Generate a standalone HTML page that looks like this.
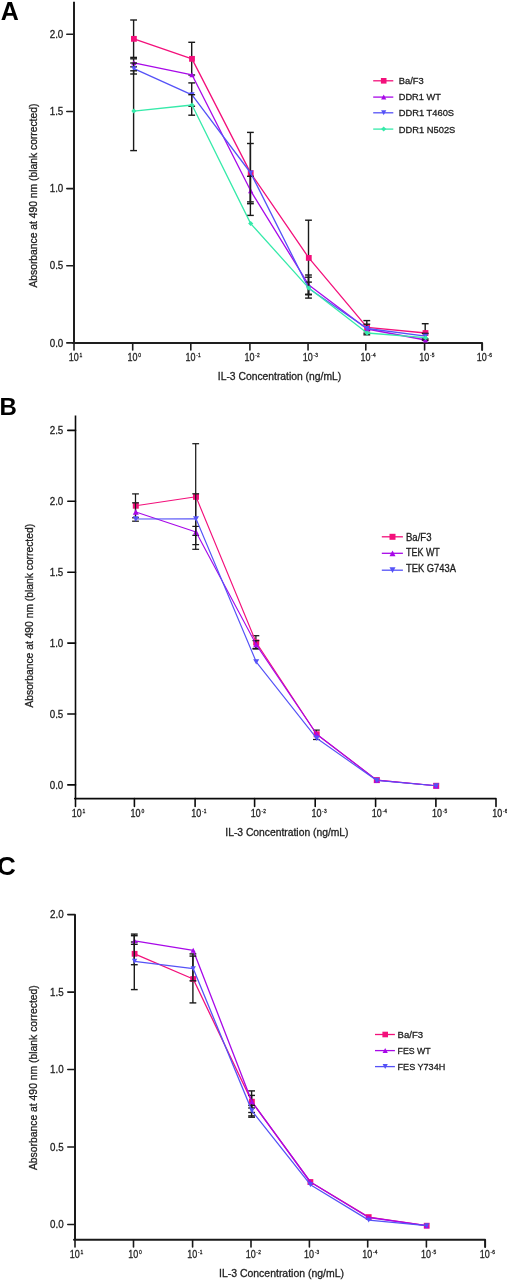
<!DOCTYPE html>
<html><head><meta charset="utf-8"><title>IL-3 dose response</title>
<style>
html,body{margin:0;padding:0;background:#fff;width:507px;height:1280px;overflow:hidden}
svg{display:block;will-change:transform}
text{font-family:"Liberation Sans", sans-serif;stroke:#222;stroke-width:0.3px}
</style></head><body>
<svg width="507" height="1280" viewBox="0 0 507 1280">
<rect width="507" height="1280" fill="#fff"/>
<path d="M74.00,1.80 L74.00,342.90" fill="none" stroke="#1e1e1e" stroke-width="2.0"/>
<path d="M73.00,342.90 L482.10,342.90 L482.10,350.00" fill="none" stroke="#1e1e1e" stroke-width="2.0" stroke-linejoin="round" stroke-linecap="round"/>
<path d="M66.80,342.90 L74.00,342.90" fill="none" stroke="#1e1e1e" stroke-width="1.6" stroke-linecap="round"/>
<text x="49.70" y="346.50" font-size="11" fill="#222" textLength="13.60" lengthAdjust="spacingAndGlyphs">0.0</text>
<path d="M66.80,265.75 L74.00,265.75" fill="none" stroke="#1e1e1e" stroke-width="1.6" stroke-linecap="round"/>
<text x="49.70" y="269.35" font-size="11" fill="#222" textLength="13.60" lengthAdjust="spacingAndGlyphs">0.5</text>
<path d="M66.80,188.60 L74.00,188.60" fill="none" stroke="#1e1e1e" stroke-width="1.6" stroke-linecap="round"/>
<text x="49.70" y="192.20" font-size="11" fill="#222" textLength="13.60" lengthAdjust="spacingAndGlyphs">1.0</text>
<path d="M66.80,111.45 L74.00,111.45" fill="none" stroke="#1e1e1e" stroke-width="1.6" stroke-linecap="round"/>
<text x="49.70" y="115.05" font-size="11" fill="#222" textLength="13.60" lengthAdjust="spacingAndGlyphs">1.5</text>
<path d="M66.80,34.30 L74.00,34.30" fill="none" stroke="#1e1e1e" stroke-width="1.6" stroke-linecap="round"/>
<text x="49.70" y="37.90" font-size="11" fill="#222" textLength="13.60" lengthAdjust="spacingAndGlyphs">2.0</text>
<path d="M74.00,342.90 L74.00,349.90" fill="none" stroke="#1e1e1e" stroke-width="1.6" stroke-linecap="round"/>
<text x="68.70" y="360.80" font-size="11" fill="#222" textLength="10.00" lengthAdjust="spacingAndGlyphs">10</text>
<text x="79.60" y="357.00" font-size="6.2" fill="#222" textLength="2.80" lengthAdjust="spacingAndGlyphs">1</text>
<path d="M132.70,342.90 L132.70,349.90" fill="none" stroke="#1e1e1e" stroke-width="1.6" stroke-linecap="round"/>
<text x="127.40" y="360.80" font-size="11" fill="#222" textLength="10.00" lengthAdjust="spacingAndGlyphs">10</text>
<text x="138.30" y="357.00" font-size="6.2" fill="#222" textLength="2.80" lengthAdjust="spacingAndGlyphs">0</text>
<path d="M190.80,342.90 L190.80,349.90" fill="none" stroke="#1e1e1e" stroke-width="1.6" stroke-linecap="round"/>
<text x="185.50" y="360.80" font-size="11" fill="#222" textLength="10.00" lengthAdjust="spacingAndGlyphs">10</text>
<text x="196.20" y="357.00" font-size="6.2" fill="#222" opacity="0.85" textLength="1.5" lengthAdjust="spacingAndGlyphs">-</text>
<text x="198.00" y="357.00" font-size="6.2" fill="#222" textLength="2.70" lengthAdjust="spacingAndGlyphs">1</text>
<path d="M249.90,342.90 L249.90,349.90" fill="none" stroke="#1e1e1e" stroke-width="1.6" stroke-linecap="round"/>
<text x="244.60" y="360.80" font-size="11" fill="#222" textLength="10.00" lengthAdjust="spacingAndGlyphs">10</text>
<text x="255.30" y="357.00" font-size="6.2" fill="#222" opacity="0.85" textLength="1.5" lengthAdjust="spacingAndGlyphs">-</text>
<text x="257.10" y="357.00" font-size="6.2" fill="#222" textLength="2.70" lengthAdjust="spacingAndGlyphs">2</text>
<path d="M308.05,342.90 L308.05,349.90" fill="none" stroke="#1e1e1e" stroke-width="1.6" stroke-linecap="round"/>
<text x="302.75" y="360.80" font-size="11" fill="#222" textLength="10.00" lengthAdjust="spacingAndGlyphs">10</text>
<text x="313.45" y="357.00" font-size="6.2" fill="#222" opacity="0.85" textLength="1.5" lengthAdjust="spacingAndGlyphs">-</text>
<text x="315.25" y="357.00" font-size="6.2" fill="#222" textLength="2.70" lengthAdjust="spacingAndGlyphs">3</text>
<path d="M365.80,342.90 L365.80,349.90" fill="none" stroke="#1e1e1e" stroke-width="1.6" stroke-linecap="round"/>
<text x="360.50" y="360.80" font-size="11" fill="#222" textLength="10.00" lengthAdjust="spacingAndGlyphs">10</text>
<text x="371.20" y="357.00" font-size="6.2" fill="#222" opacity="0.85" textLength="1.5" lengthAdjust="spacingAndGlyphs">-</text>
<text x="373.00" y="357.00" font-size="6.2" fill="#222" textLength="2.70" lengthAdjust="spacingAndGlyphs">4</text>
<path d="M424.60,342.90 L424.60,349.90" fill="none" stroke="#1e1e1e" stroke-width="1.6" stroke-linecap="round"/>
<text x="419.30" y="360.80" font-size="11" fill="#222" textLength="10.00" lengthAdjust="spacingAndGlyphs">10</text>
<text x="430.00" y="357.00" font-size="6.2" fill="#222" opacity="0.85" textLength="1.5" lengthAdjust="spacingAndGlyphs">-</text>
<text x="431.80" y="357.00" font-size="6.2" fill="#222" textLength="2.70" lengthAdjust="spacingAndGlyphs">5</text>
<text x="476.80" y="360.80" font-size="11" fill="#222" textLength="10.00" lengthAdjust="spacingAndGlyphs">10</text>
<text x="487.50" y="357.00" font-size="6.2" fill="#222" opacity="0.85" textLength="1.5" lengthAdjust="spacingAndGlyphs">-</text>
<text x="489.30" y="357.00" font-size="6.2" fill="#222" textLength="2.70" lengthAdjust="spacingAndGlyphs">6</text>
<text x="217.80" y="380.00" font-size="11" fill="#222" textLength="123.40" lengthAdjust="spacingAndGlyphs">IL-3 Concentration (ng/mL)</text>
<text transform="translate(36.90,287.60) rotate(-90)" x="0" y="0" font-size="11" fill="#222" textLength="184.0" lengthAdjust="spacingAndGlyphs">Absorbance at 490 nm (blank corrected)</text>
<text x="0.80" y="19.60" font-size="25" font-weight="bold" fill="#000" style="stroke:none">A</text>
<line x1="133.60" y1="20.00" x2="133.60" y2="57.40" stroke="#1a1a1a" stroke-width="1.4" stroke-linecap="butt"/>
<line x1="130.20" y1="20.00" x2="137.00" y2="20.00" stroke="#1a1a1a" stroke-width="1.4" stroke-linecap="butt"/>
<line x1="130.20" y1="57.40" x2="137.00" y2="57.40" stroke="#1a1a1a" stroke-width="1.4" stroke-linecap="butt"/>
<line x1="191.70" y1="42.30" x2="191.70" y2="75.00" stroke="#1a1a1a" stroke-width="1.4" stroke-linecap="butt"/>
<line x1="188.30" y1="42.30" x2="195.10" y2="42.30" stroke="#1a1a1a" stroke-width="1.4" stroke-linecap="butt"/>
<line x1="188.30" y1="75.00" x2="195.10" y2="75.00" stroke="#1a1a1a" stroke-width="1.4" stroke-linecap="butt"/>
<line x1="250.40" y1="132.40" x2="250.40" y2="215.40" stroke="#1a1a1a" stroke-width="1.4" stroke-linecap="butt"/>
<line x1="247.00" y1="132.40" x2="253.80" y2="132.40" stroke="#1a1a1a" stroke-width="1.4" stroke-linecap="butt"/>
<line x1="247.00" y1="215.40" x2="253.80" y2="215.40" stroke="#1a1a1a" stroke-width="1.4" stroke-linecap="butt"/>
<line x1="308.50" y1="220.20" x2="308.50" y2="294.50" stroke="#1a1a1a" stroke-width="1.4" stroke-linecap="butt"/>
<line x1="305.10" y1="220.20" x2="311.90" y2="220.20" stroke="#1a1a1a" stroke-width="1.4" stroke-linecap="butt"/>
<line x1="305.10" y1="294.50" x2="311.90" y2="294.50" stroke="#1a1a1a" stroke-width="1.4" stroke-linecap="butt"/>
<line x1="366.80" y1="320.60" x2="366.80" y2="330.60" stroke="#1a1a1a" stroke-width="1.4" stroke-linecap="butt"/>
<line x1="363.40" y1="320.60" x2="370.20" y2="320.60" stroke="#1a1a1a" stroke-width="1.4" stroke-linecap="butt"/>
<line x1="363.40" y1="330.60" x2="370.20" y2="330.60" stroke="#1a1a1a" stroke-width="1.4" stroke-linecap="butt"/>
<line x1="425.20" y1="323.70" x2="425.20" y2="340.40" stroke="#1a1a1a" stroke-width="1.4" stroke-linecap="butt"/>
<line x1="421.80" y1="323.70" x2="428.60" y2="323.70" stroke="#1a1a1a" stroke-width="1.4" stroke-linecap="butt"/>
<line x1="421.80" y1="340.40" x2="428.60" y2="340.40" stroke="#1a1a1a" stroke-width="1.4" stroke-linecap="butt"/>
<polyline points="133.90,38.85 192.00,58.85 250.70,173.10 308.80,257.90 367.10,327.30 425.50,333.00" fill="none" stroke="#F3107B" stroke-width="1.3" stroke-linejoin="round"/>
<rect x="131.00" y="35.95" width="5.80" height="5.80" fill="#F3107B"/>
<rect x="189.10" y="55.95" width="5.80" height="5.80" fill="#F3107B"/>
<rect x="247.80" y="170.20" width="5.80" height="5.80" fill="#F3107B"/>
<rect x="305.90" y="255.00" width="5.80" height="5.80" fill="#F3107B"/>
<rect x="364.20" y="324.40" width="5.80" height="5.80" fill="#F3107B"/>
<rect x="422.60" y="330.10" width="5.80" height="5.80" fill="#F3107B"/>
<line x1="133.60" y1="58.80" x2="133.60" y2="66.80" stroke="#1a1a1a" stroke-width="1.4" stroke-linecap="butt"/>
<line x1="130.20" y1="58.80" x2="137.00" y2="58.80" stroke="#1a1a1a" stroke-width="1.4" stroke-linecap="butt"/>
<line x1="130.20" y1="66.80" x2="137.00" y2="66.80" stroke="#1a1a1a" stroke-width="1.4" stroke-linecap="butt"/>
<line x1="250.40" y1="176.30" x2="250.40" y2="203.70" stroke="#1a1a1a" stroke-width="1.4" stroke-linecap="butt"/>
<line x1="247.00" y1="176.30" x2="253.80" y2="176.30" stroke="#1a1a1a" stroke-width="1.4" stroke-linecap="butt"/>
<line x1="247.00" y1="203.70" x2="253.80" y2="203.70" stroke="#1a1a1a" stroke-width="1.4" stroke-linecap="butt"/>
<line x1="308.50" y1="275.00" x2="308.50" y2="294.50" stroke="#1a1a1a" stroke-width="1.4" stroke-linecap="butt"/>
<line x1="305.10" y1="275.00" x2="311.90" y2="275.00" stroke="#1a1a1a" stroke-width="1.4" stroke-linecap="butt"/>
<line x1="305.10" y1="294.50" x2="311.90" y2="294.50" stroke="#1a1a1a" stroke-width="1.4" stroke-linecap="butt"/>
<line x1="366.80" y1="324.20" x2="366.80" y2="333.20" stroke="#1a1a1a" stroke-width="1.4" stroke-linecap="butt"/>
<line x1="363.40" y1="324.20" x2="370.20" y2="324.20" stroke="#1a1a1a" stroke-width="1.4" stroke-linecap="butt"/>
<line x1="363.40" y1="333.20" x2="370.20" y2="333.20" stroke="#1a1a1a" stroke-width="1.4" stroke-linecap="butt"/>
<polyline points="133.90,62.80 192.00,74.80 250.70,190.80 308.80,285.00 367.10,329.00 425.50,340.00" fill="none" stroke="#A808E8" stroke-width="1.3" stroke-linejoin="round"/>
<polygon points="133.90,60.35 136.55,65.25 131.25,65.25" fill="#A808E8"/>
<polygon points="192.00,72.35 194.65,77.25 189.35,77.25" fill="#A808E8"/>
<polygon points="250.70,188.35 253.35,193.25 248.05,193.25" fill="#A808E8"/>
<polygon points="308.80,282.55 311.45,287.45 306.15,287.45" fill="#A808E8"/>
<polygon points="367.10,326.55 369.75,331.45 364.45,331.45" fill="#A808E8"/>
<polygon points="425.50,337.55 428.15,342.45 422.85,342.45" fill="#A808E8"/>
<line x1="133.60" y1="63.00" x2="133.60" y2="74.00" stroke="#1a1a1a" stroke-width="1.4" stroke-linecap="butt"/>
<line x1="130.20" y1="63.00" x2="137.00" y2="63.00" stroke="#1a1a1a" stroke-width="1.4" stroke-linecap="butt"/>
<line x1="130.20" y1="74.00" x2="137.00" y2="74.00" stroke="#1a1a1a" stroke-width="1.4" stroke-linecap="butt"/>
<line x1="191.70" y1="82.90" x2="191.70" y2="106.20" stroke="#1a1a1a" stroke-width="1.4" stroke-linecap="butt"/>
<line x1="188.30" y1="82.90" x2="195.10" y2="82.90" stroke="#1a1a1a" stroke-width="1.4" stroke-linecap="butt"/>
<line x1="188.30" y1="106.20" x2="195.10" y2="106.20" stroke="#1a1a1a" stroke-width="1.4" stroke-linecap="butt"/>
<line x1="250.40" y1="143.50" x2="250.40" y2="201.90" stroke="#1a1a1a" stroke-width="1.4" stroke-linecap="butt"/>
<line x1="247.00" y1="143.50" x2="253.80" y2="143.50" stroke="#1a1a1a" stroke-width="1.4" stroke-linecap="butt"/>
<line x1="247.00" y1="201.90" x2="253.80" y2="201.90" stroke="#1a1a1a" stroke-width="1.4" stroke-linecap="butt"/>
<line x1="308.50" y1="282.10" x2="308.50" y2="294.50" stroke="#1a1a1a" stroke-width="1.4" stroke-linecap="butt"/>
<line x1="305.10" y1="282.10" x2="311.90" y2="282.10" stroke="#1a1a1a" stroke-width="1.4" stroke-linecap="butt"/>
<line x1="305.10" y1="294.50" x2="311.90" y2="294.50" stroke="#1a1a1a" stroke-width="1.4" stroke-linecap="butt"/>
<line x1="425.20" y1="333.40" x2="425.20" y2="339.00" stroke="#1a1a1a" stroke-width="1.4" stroke-linecap="butt"/>
<line x1="421.80" y1="333.40" x2="428.60" y2="333.40" stroke="#1a1a1a" stroke-width="1.4" stroke-linecap="butt"/>
<line x1="421.80" y1="339.00" x2="428.60" y2="339.00" stroke="#1a1a1a" stroke-width="1.4" stroke-linecap="butt"/>
<polyline points="133.90,68.60 192.00,94.80 250.70,173.00 308.80,288.50 367.10,328.50 425.50,336.20" fill="none" stroke="#5552F7" stroke-width="1.3" stroke-linejoin="round"/>
<polygon points="131.25,66.15 136.55,66.15 133.90,71.05" fill="#5552F7"/>
<polygon points="189.35,92.35 194.65,92.35 192.00,97.25" fill="#5552F7"/>
<polygon points="248.05,170.55 253.35,170.55 250.70,175.45" fill="#5552F7"/>
<polygon points="306.15,286.05 311.45,286.05 308.80,290.95" fill="#5552F7"/>
<polygon points="364.45,326.05 369.75,326.05 367.10,330.95" fill="#5552F7"/>
<polygon points="422.85,333.75 428.15,333.75 425.50,338.65" fill="#5552F7"/>
<line x1="133.60" y1="70.80" x2="133.60" y2="150.60" stroke="#1a1a1a" stroke-width="1.4" stroke-linecap="butt"/>
<line x1="130.20" y1="70.80" x2="137.00" y2="70.80" stroke="#1a1a1a" stroke-width="1.4" stroke-linecap="butt"/>
<line x1="130.20" y1="150.60" x2="137.00" y2="150.60" stroke="#1a1a1a" stroke-width="1.4" stroke-linecap="butt"/>
<line x1="191.70" y1="94.70" x2="191.70" y2="115.20" stroke="#1a1a1a" stroke-width="1.4" stroke-linecap="butt"/>
<line x1="188.30" y1="94.70" x2="195.10" y2="94.70" stroke="#1a1a1a" stroke-width="1.4" stroke-linecap="butt"/>
<line x1="188.30" y1="115.20" x2="195.10" y2="115.20" stroke="#1a1a1a" stroke-width="1.4" stroke-linecap="butt"/>
<line x1="308.50" y1="277.20" x2="308.50" y2="298.10" stroke="#1a1a1a" stroke-width="1.4" stroke-linecap="butt"/>
<line x1="305.10" y1="277.20" x2="311.90" y2="277.20" stroke="#1a1a1a" stroke-width="1.4" stroke-linecap="butt"/>
<line x1="305.10" y1="298.10" x2="311.90" y2="298.10" stroke="#1a1a1a" stroke-width="1.4" stroke-linecap="butt"/>
<line x1="366.80" y1="331.20" x2="366.80" y2="334.80" stroke="#1a1a1a" stroke-width="1.4" stroke-linecap="butt"/>
<line x1="363.40" y1="334.80" x2="370.20" y2="334.80" stroke="#1a1a1a" stroke-width="1.4" stroke-linecap="butt"/>
<polyline points="133.90,111.10 192.00,105.00 250.70,223.60 308.80,288.10 367.10,333.00 425.50,337.70" fill="none" stroke="#36EAAA" stroke-width="1.3" stroke-linejoin="round"/>
<polygon points="133.90,108.60 136.50,111.10 133.90,113.60 131.30,111.10" fill="#36EAAA"/>
<polygon points="192.00,102.50 194.60,105.00 192.00,107.50 189.40,105.00" fill="#36EAAA"/>
<polygon points="250.70,221.10 253.30,223.60 250.70,226.10 248.10,223.60" fill="#36EAAA"/>
<polygon points="308.80,285.60 311.40,288.10 308.80,290.60 306.20,288.10" fill="#36EAAA"/>
<polygon points="367.10,330.50 369.70,333.00 367.10,335.50 364.50,333.00" fill="#36EAAA"/>
<polygon points="425.50,335.20 428.10,337.70 425.50,340.20 422.90,337.70" fill="#36EAAA"/>
<line x1="373.20" y1="80.80" x2="393.30" y2="80.80" stroke="#F3107B" stroke-width="1.3" stroke-linecap="butt"/>
<rect x="380.90" y="78.00" width="5.60" height="5.60" fill="#F3107B"/>
<text x="398.80" y="83.80" font-size="9.6" fill="#1a1a1a" textLength="24.90" lengthAdjust="spacingAndGlyphs">Ba/F3</text>
<line x1="373.20" y1="97.10" x2="393.30" y2="97.10" stroke="#A808E8" stroke-width="1.3" stroke-linecap="butt"/>
<polygon points="383.70,94.60 386.30,99.60 381.10,99.60" fill="#A808E8"/>
<text x="398.80" y="99.80" font-size="9.6" fill="#1a1a1a" textLength="42.00" lengthAdjust="spacingAndGlyphs">DDR1 WT</text>
<line x1="373.20" y1="112.80" x2="393.30" y2="112.80" stroke="#5552F7" stroke-width="1.3" stroke-linecap="butt"/>
<polygon points="381.10,110.30 386.30,110.30 383.70,115.30" fill="#5552F7"/>
<text x="398.80" y="115.80" font-size="9.6" fill="#1a1a1a" textLength="55.30" lengthAdjust="spacingAndGlyphs">DDR1 T460S</text>
<line x1="373.20" y1="129.10" x2="393.30" y2="129.10" stroke="#36EAAA" stroke-width="1.3" stroke-linecap="butt"/>
<polygon points="383.70,126.60 386.30,129.10 383.70,131.60 381.10,129.10" fill="#36EAAA"/>
<text x="398.80" y="132.80" font-size="9.6" fill="#1a1a1a" textLength="56.50" lengthAdjust="spacingAndGlyphs">DDR1 N502S</text>
<path d="M75.50,415.40 L75.50,798.60" fill="none" stroke="#0a0a0a" stroke-width="1.6"/>
<path d="M74.70,798.60 L496.00,798.60 L496.00,806.50" fill="none" stroke="#0a0a0a" stroke-width="1.6" stroke-linejoin="round" stroke-linecap="round"/>
<path d="M67.80,784.90 L75.50,784.90" fill="none" stroke="#0a0a0a" stroke-width="1.6" stroke-linecap="round"/>
<text x="49.70" y="788.50" font-size="11" fill="#222" textLength="13.60" lengthAdjust="spacingAndGlyphs">0.0</text>
<path d="M67.80,714.00 L75.50,714.00" fill="none" stroke="#0a0a0a" stroke-width="1.6" stroke-linecap="round"/>
<text x="49.70" y="717.60" font-size="11" fill="#222" textLength="13.60" lengthAdjust="spacingAndGlyphs">0.5</text>
<path d="M67.80,643.10 L75.50,643.10" fill="none" stroke="#0a0a0a" stroke-width="1.6" stroke-linecap="round"/>
<text x="49.70" y="646.70" font-size="11" fill="#222" textLength="13.60" lengthAdjust="spacingAndGlyphs">1.0</text>
<path d="M67.80,572.20 L75.50,572.20" fill="none" stroke="#0a0a0a" stroke-width="1.6" stroke-linecap="round"/>
<text x="49.70" y="575.80" font-size="11" fill="#222" textLength="13.60" lengthAdjust="spacingAndGlyphs">1.5</text>
<path d="M67.80,501.30 L75.50,501.30" fill="none" stroke="#0a0a0a" stroke-width="1.6" stroke-linecap="round"/>
<text x="49.70" y="504.90" font-size="11" fill="#222" textLength="13.60" lengthAdjust="spacingAndGlyphs">2.0</text>
<path d="M67.80,430.40 L75.50,430.40" fill="none" stroke="#0a0a0a" stroke-width="1.6" stroke-linecap="round"/>
<text x="49.70" y="434.00" font-size="11" fill="#222" textLength="13.60" lengthAdjust="spacingAndGlyphs">2.5</text>
<path d="M75.50,798.60 L75.50,806.40" fill="none" stroke="#0a0a0a" stroke-width="1.6" stroke-linecap="round"/>
<text x="71.70" y="817.00" font-size="10.4" fill="#222" textLength="10.00" lengthAdjust="spacingAndGlyphs">10</text>
<text x="82.60" y="813.20" font-size="6.2" fill="#222" textLength="2.80" lengthAdjust="spacingAndGlyphs">1</text>
<path d="M134.40,798.60 L134.40,806.40" fill="none" stroke="#0a0a0a" stroke-width="1.6" stroke-linecap="round"/>
<text x="130.60" y="817.00" font-size="10.4" fill="#222" textLength="10.00" lengthAdjust="spacingAndGlyphs">10</text>
<text x="141.50" y="813.20" font-size="6.2" fill="#222" textLength="2.80" lengthAdjust="spacingAndGlyphs">0</text>
<path d="M195.10,798.60 L195.10,806.40" fill="none" stroke="#0a0a0a" stroke-width="1.6" stroke-linecap="round"/>
<text x="191.30" y="817.00" font-size="10.4" fill="#222" textLength="10.00" lengthAdjust="spacingAndGlyphs">10</text>
<text x="202.00" y="813.20" font-size="6.2" fill="#222" opacity="0.85" textLength="1.5" lengthAdjust="spacingAndGlyphs">-</text>
<text x="203.80" y="813.20" font-size="6.2" fill="#222" textLength="2.70" lengthAdjust="spacingAndGlyphs">1</text>
<path d="M254.60,798.60 L254.60,806.40" fill="none" stroke="#0a0a0a" stroke-width="1.6" stroke-linecap="round"/>
<text x="250.80" y="817.00" font-size="10.4" fill="#222" textLength="10.00" lengthAdjust="spacingAndGlyphs">10</text>
<text x="261.50" y="813.20" font-size="6.2" fill="#222" opacity="0.85" textLength="1.5" lengthAdjust="spacingAndGlyphs">-</text>
<text x="263.30" y="813.20" font-size="6.2" fill="#222" textLength="2.70" lengthAdjust="spacingAndGlyphs">2</text>
<path d="M315.20,798.60 L315.20,806.40" fill="none" stroke="#0a0a0a" stroke-width="1.6" stroke-linecap="round"/>
<text x="311.40" y="817.00" font-size="10.4" fill="#222" textLength="10.00" lengthAdjust="spacingAndGlyphs">10</text>
<text x="322.10" y="813.20" font-size="6.2" fill="#222" opacity="0.85" textLength="1.5" lengthAdjust="spacingAndGlyphs">-</text>
<text x="323.90" y="813.20" font-size="6.2" fill="#222" textLength="2.70" lengthAdjust="spacingAndGlyphs">3</text>
<path d="M375.60,798.60 L375.60,806.40" fill="none" stroke="#0a0a0a" stroke-width="1.6" stroke-linecap="round"/>
<text x="371.80" y="817.00" font-size="10.4" fill="#222" textLength="10.00" lengthAdjust="spacingAndGlyphs">10</text>
<text x="382.50" y="813.20" font-size="6.2" fill="#222" opacity="0.85" textLength="1.5" lengthAdjust="spacingAndGlyphs">-</text>
<text x="384.30" y="813.20" font-size="6.2" fill="#222" textLength="2.70" lengthAdjust="spacingAndGlyphs">4</text>
<path d="M435.90,798.60 L435.90,806.40" fill="none" stroke="#0a0a0a" stroke-width="1.6" stroke-linecap="round"/>
<text x="432.10" y="817.00" font-size="10.4" fill="#222" textLength="10.00" lengthAdjust="spacingAndGlyphs">10</text>
<text x="442.80" y="813.20" font-size="6.2" fill="#222" opacity="0.85" textLength="1.5" lengthAdjust="spacingAndGlyphs">-</text>
<text x="444.60" y="813.20" font-size="6.2" fill="#222" textLength="2.70" lengthAdjust="spacingAndGlyphs">5</text>
<text x="492.20" y="817.00" font-size="10.4" fill="#222" textLength="10.00" lengthAdjust="spacingAndGlyphs">10</text>
<text x="502.90" y="813.20" font-size="6.2" fill="#222" opacity="0.85" textLength="1.5" lengthAdjust="spacingAndGlyphs">-</text>
<text x="504.70" y="813.20" font-size="6.2" fill="#222" textLength="2.70" lengthAdjust="spacingAndGlyphs">6</text>
<text x="225.30" y="836.20" font-size="11" fill="#222" textLength="123.20" lengthAdjust="spacingAndGlyphs">IL-3 Concentration (ng/mL)</text>
<text transform="translate(33.40,707.60) rotate(-90)" x="0" y="0" font-size="11" fill="#222" textLength="183.7" lengthAdjust="spacingAndGlyphs">Absorbance at 490 nm (blank corrected)</text>
<text x="-0.50" y="414.80" font-size="24" font-weight="bold" fill="#000" style="stroke:none">B</text>
<line x1="135.50" y1="493.90" x2="135.50" y2="517.80" stroke="#1a1a1a" stroke-width="1.25" stroke-linecap="butt"/>
<line x1="132.10" y1="493.90" x2="138.90" y2="493.90" stroke="#1a1a1a" stroke-width="1.25" stroke-linecap="butt"/>
<line x1="132.10" y1="517.80" x2="138.90" y2="517.80" stroke="#1a1a1a" stroke-width="1.25" stroke-linecap="butt"/>
<line x1="195.70" y1="443.70" x2="195.70" y2="549.30" stroke="#1a1a1a" stroke-width="1.25" stroke-linecap="butt"/>
<line x1="192.30" y1="443.70" x2="199.10" y2="443.70" stroke="#1a1a1a" stroke-width="1.25" stroke-linecap="butt"/>
<line x1="192.30" y1="549.30" x2="199.10" y2="549.30" stroke="#1a1a1a" stroke-width="1.25" stroke-linecap="butt"/>
<line x1="255.90" y1="635.70" x2="255.90" y2="649.00" stroke="#1a1a1a" stroke-width="1.25" stroke-linecap="butt"/>
<line x1="252.50" y1="635.70" x2="259.30" y2="635.70" stroke="#1a1a1a" stroke-width="1.25" stroke-linecap="butt"/>
<line x1="252.50" y1="649.00" x2="259.30" y2="649.00" stroke="#1a1a1a" stroke-width="1.25" stroke-linecap="butt"/>
<line x1="316.40" y1="730.10" x2="316.40" y2="739.50" stroke="#1a1a1a" stroke-width="1.25" stroke-linecap="butt"/>
<line x1="313.00" y1="730.10" x2="319.80" y2="730.10" stroke="#1a1a1a" stroke-width="1.25" stroke-linecap="butt"/>
<line x1="313.00" y1="739.50" x2="319.80" y2="739.50" stroke="#1a1a1a" stroke-width="1.25" stroke-linecap="butt"/>
<polyline points="135.80,505.70 196.00,496.80 256.20,642.50 316.70,734.30 376.80,780.10 436.20,785.80" fill="none" stroke="#F3107B" stroke-width="1.15" stroke-linejoin="round"/>
<rect x="132.80" y="502.70" width="6.00" height="6.00" fill="#F3107B"/>
<rect x="193.00" y="493.80" width="6.00" height="6.00" fill="#F3107B"/>
<rect x="253.20" y="639.50" width="6.00" height="6.00" fill="#F3107B"/>
<rect x="313.70" y="731.30" width="6.00" height="6.00" fill="#F3107B"/>
<rect x="373.80" y="777.10" width="6.00" height="6.00" fill="#F3107B"/>
<rect x="433.20" y="782.80" width="6.00" height="6.00" fill="#F3107B"/>
<line x1="135.50" y1="502.80" x2="135.50" y2="521.20" stroke="#1a1a1a" stroke-width="1.25" stroke-linecap="butt"/>
<line x1="132.10" y1="502.80" x2="138.90" y2="502.80" stroke="#1a1a1a" stroke-width="1.25" stroke-linecap="butt"/>
<line x1="132.10" y1="521.20" x2="138.90" y2="521.20" stroke="#1a1a1a" stroke-width="1.25" stroke-linecap="butt"/>
<line x1="195.70" y1="526.40" x2="195.70" y2="535.40" stroke="#1a1a1a" stroke-width="1.25" stroke-linecap="butt"/>
<line x1="192.30" y1="526.40" x2="199.10" y2="526.40" stroke="#1a1a1a" stroke-width="1.25" stroke-linecap="butt"/>
<line x1="192.30" y1="535.40" x2="199.10" y2="535.40" stroke="#1a1a1a" stroke-width="1.25" stroke-linecap="butt"/>
<line x1="255.90" y1="640.60" x2="255.90" y2="648.50" stroke="#1a1a1a" stroke-width="1.25" stroke-linecap="butt"/>
<line x1="252.50" y1="640.60" x2="259.30" y2="640.60" stroke="#1a1a1a" stroke-width="1.25" stroke-linecap="butt"/>
<line x1="252.50" y1="648.50" x2="259.30" y2="648.50" stroke="#1a1a1a" stroke-width="1.25" stroke-linecap="butt"/>
<polyline points="135.80,512.00 196.00,532.00 256.20,644.60 316.70,734.30 376.80,780.10 436.20,785.80" fill="none" stroke="#A808E8" stroke-width="1.15" stroke-linejoin="round"/>
<polygon points="135.80,509.35 138.80,514.65 132.80,514.65" fill="#A808E8"/>
<polygon points="196.00,529.35 199.00,534.65 193.00,534.65" fill="#A808E8"/>
<polygon points="256.20,641.95 259.20,647.25 253.20,647.25" fill="#A808E8"/>
<polygon points="316.70,731.65 319.70,736.95 313.70,736.95" fill="#A808E8"/>
<polygon points="376.80,777.45 379.80,782.75 373.80,782.75" fill="#A808E8"/>
<polygon points="436.20,783.15 439.20,788.45 433.20,788.45" fill="#A808E8"/>
<line x1="195.70" y1="493.80" x2="195.70" y2="544.60" stroke="#1a1a1a" stroke-width="1.25" stroke-linecap="butt"/>
<line x1="192.30" y1="493.80" x2="199.10" y2="493.80" stroke="#1a1a1a" stroke-width="1.25" stroke-linecap="butt"/>
<line x1="192.30" y1="544.60" x2="199.10" y2="544.60" stroke="#1a1a1a" stroke-width="1.25" stroke-linecap="butt"/>
<polyline points="135.80,519.00 196.00,518.80 256.20,661.80 316.70,738.30 376.80,780.50 436.20,785.80" fill="none" stroke="#5552F7" stroke-width="1.15" stroke-linejoin="round"/>
<polygon points="132.80,516.35 138.80,516.35 135.80,521.65" fill="#5552F7"/>
<polygon points="193.00,516.15 199.00,516.15 196.00,521.45" fill="#5552F7"/>
<polygon points="253.20,659.15 259.20,659.15 256.20,664.45" fill="#5552F7"/>
<polygon points="313.70,735.65 319.70,735.65 316.70,740.95" fill="#5552F7"/>
<polygon points="373.80,777.85 379.80,777.85 376.80,783.15" fill="#5552F7"/>
<polygon points="433.20,783.15 439.20,783.15 436.20,788.45" fill="#5552F7"/>
<line x1="381.80" y1="536.80" x2="402.90" y2="536.80" stroke="#F3107B" stroke-width="1.3" stroke-linecap="butt"/>
<rect x="389.50" y="533.80" width="6.00" height="6.00" fill="#F3107B"/>
<text x="406.00" y="540.70" font-size="10.2" fill="#1a1a1a" textLength="25.50" lengthAdjust="spacingAndGlyphs">Ba/F3</text>
<line x1="381.80" y1="553.30" x2="402.90" y2="553.30" stroke="#A808E8" stroke-width="1.3" stroke-linecap="butt"/>
<polygon points="392.50,550.40 395.50,556.20 389.50,556.20" fill="#A808E8"/>
<text x="406.00" y="556.00" font-size="10.2" fill="#1a1a1a" textLength="33.80" lengthAdjust="spacingAndGlyphs">TEK WT</text>
<line x1="381.80" y1="570.20" x2="402.90" y2="570.20" stroke="#5552F7" stroke-width="1.3" stroke-linecap="butt"/>
<polygon points="389.50,567.30 395.50,567.30 392.50,573.10" fill="#5552F7"/>
<text x="406.00" y="571.60" font-size="10.2" fill="#1a1a1a" textLength="49.90" lengthAdjust="spacingAndGlyphs">TEK G743A</text>
<path d="M75.00,914.60 L75.00,1239.70" fill="none" stroke="#1a1a1a" stroke-width="2.0"/>
<path d="M74.00,1239.70 L485.10,1239.70 L485.10,1247.00" fill="none" stroke="#1a1a1a" stroke-width="2.0" stroke-linejoin="round" stroke-linecap="round"/>
<path d="M67.80,1224.50 L75.00,1224.50" fill="none" stroke="#1a1a1a" stroke-width="1.6" stroke-linecap="round"/>
<text x="50.00" y="1228.10" font-size="11" fill="#222" textLength="13.60" lengthAdjust="spacingAndGlyphs">0.0</text>
<path d="M67.80,1147.03 L75.00,1147.03" fill="none" stroke="#1a1a1a" stroke-width="1.6" stroke-linecap="round"/>
<text x="50.00" y="1150.62" font-size="11" fill="#222" textLength="13.60" lengthAdjust="spacingAndGlyphs">0.5</text>
<path d="M67.80,1069.55 L75.00,1069.55" fill="none" stroke="#1a1a1a" stroke-width="1.6" stroke-linecap="round"/>
<text x="50.00" y="1073.15" font-size="11" fill="#222" textLength="13.60" lengthAdjust="spacingAndGlyphs">1.0</text>
<path d="M67.80,992.08 L75.00,992.08" fill="none" stroke="#1a1a1a" stroke-width="1.6" stroke-linecap="round"/>
<text x="50.00" y="995.68" font-size="11" fill="#222" textLength="13.60" lengthAdjust="spacingAndGlyphs">1.5</text>
<path d="M67.80,914.60 L75.00,914.60" fill="none" stroke="#1a1a1a" stroke-width="1.6" stroke-linecap="round"/>
<text x="50.00" y="918.20" font-size="11" fill="#222" textLength="13.60" lengthAdjust="spacingAndGlyphs">2.0</text>
<path d="M75.00,1239.70 L75.00,1246.90" fill="none" stroke="#1a1a1a" stroke-width="1.6" stroke-linecap="round"/>
<text x="69.65" y="1257.60" font-size="11" fill="#222" textLength="10.00" lengthAdjust="spacingAndGlyphs">10</text>
<text x="80.55" y="1253.80" font-size="6.2" fill="#222" textLength="2.80" lengthAdjust="spacingAndGlyphs">1</text>
<path d="M133.50,1239.70 L133.50,1246.90" fill="none" stroke="#1a1a1a" stroke-width="1.6" stroke-linecap="round"/>
<text x="128.15" y="1257.60" font-size="11" fill="#222" textLength="10.00" lengthAdjust="spacingAndGlyphs">10</text>
<text x="139.05" y="1253.80" font-size="6.2" fill="#222" textLength="2.80" lengthAdjust="spacingAndGlyphs">0</text>
<path d="M192.60,1239.70 L192.60,1246.90" fill="none" stroke="#1a1a1a" stroke-width="1.6" stroke-linecap="round"/>
<text x="187.25" y="1257.60" font-size="11" fill="#222" textLength="10.00" lengthAdjust="spacingAndGlyphs">10</text>
<text x="197.95" y="1253.80" font-size="6.2" fill="#222" opacity="0.85" textLength="1.5" lengthAdjust="spacingAndGlyphs">-</text>
<text x="199.75" y="1253.80" font-size="6.2" fill="#222" textLength="2.70" lengthAdjust="spacingAndGlyphs">1</text>
<path d="M251.00,1239.70 L251.00,1246.90" fill="none" stroke="#1a1a1a" stroke-width="1.6" stroke-linecap="round"/>
<text x="245.65" y="1257.60" font-size="11" fill="#222" textLength="10.00" lengthAdjust="spacingAndGlyphs">10</text>
<text x="256.35" y="1253.80" font-size="6.2" fill="#222" opacity="0.85" textLength="1.5" lengthAdjust="spacingAndGlyphs">-</text>
<text x="258.15" y="1253.80" font-size="6.2" fill="#222" textLength="2.70" lengthAdjust="spacingAndGlyphs">2</text>
<path d="M309.40,1239.70 L309.40,1246.90" fill="none" stroke="#1a1a1a" stroke-width="1.6" stroke-linecap="round"/>
<text x="304.05" y="1257.60" font-size="11" fill="#222" textLength="10.00" lengthAdjust="spacingAndGlyphs">10</text>
<text x="314.75" y="1253.80" font-size="6.2" fill="#222" opacity="0.85" textLength="1.5" lengthAdjust="spacingAndGlyphs">-</text>
<text x="316.55" y="1253.80" font-size="6.2" fill="#222" textLength="2.70" lengthAdjust="spacingAndGlyphs">3</text>
<path d="M367.70,1239.70 L367.70,1246.90" fill="none" stroke="#1a1a1a" stroke-width="1.6" stroke-linecap="round"/>
<text x="362.35" y="1257.60" font-size="11" fill="#222" textLength="10.00" lengthAdjust="spacingAndGlyphs">10</text>
<text x="373.05" y="1253.80" font-size="6.2" fill="#222" opacity="0.85" textLength="1.5" lengthAdjust="spacingAndGlyphs">-</text>
<text x="374.85" y="1253.80" font-size="6.2" fill="#222" textLength="2.70" lengthAdjust="spacingAndGlyphs">4</text>
<path d="M426.40,1239.70 L426.40,1246.90" fill="none" stroke="#1a1a1a" stroke-width="1.6" stroke-linecap="round"/>
<text x="421.05" y="1257.60" font-size="11" fill="#222" textLength="10.00" lengthAdjust="spacingAndGlyphs">10</text>
<text x="431.75" y="1253.80" font-size="6.2" fill="#222" opacity="0.85" textLength="1.5" lengthAdjust="spacingAndGlyphs">-</text>
<text x="433.55" y="1253.80" font-size="6.2" fill="#222" textLength="2.70" lengthAdjust="spacingAndGlyphs">5</text>
<text x="479.75" y="1257.60" font-size="11" fill="#222" textLength="10.00" lengthAdjust="spacingAndGlyphs">10</text>
<text x="490.45" y="1253.80" font-size="6.2" fill="#222" opacity="0.85" textLength="1.5" lengthAdjust="spacingAndGlyphs">-</text>
<text x="492.25" y="1253.80" font-size="6.2" fill="#222" textLength="2.70" lengthAdjust="spacingAndGlyphs">6</text>
<text x="219.00" y="1276.80" font-size="11" fill="#222" textLength="125.00" lengthAdjust="spacingAndGlyphs">IL-3 Concentration (ng/mL)</text>
<text transform="translate(36.60,1170.10) rotate(-90)" x="0" y="0" font-size="11" fill="#222" textLength="184.9" lengthAdjust="spacingAndGlyphs">Absorbance at 490 nm (blank corrected)</text>
<text x="-3.00" y="874.60" font-size="26" font-weight="bold" fill="#000" style="stroke:none">C</text>
<line x1="134.30" y1="942.00" x2="134.30" y2="964.70" stroke="#1a1a1a" stroke-width="1.4" stroke-linecap="butt"/>
<line x1="130.90" y1="942.00" x2="137.70" y2="942.00" stroke="#1a1a1a" stroke-width="1.4" stroke-linecap="butt"/>
<line x1="130.90" y1="964.70" x2="137.70" y2="964.70" stroke="#1a1a1a" stroke-width="1.4" stroke-linecap="butt"/>
<line x1="192.90" y1="953.90" x2="192.90" y2="1002.90" stroke="#1a1a1a" stroke-width="1.4" stroke-linecap="butt"/>
<line x1="189.50" y1="953.90" x2="196.30" y2="953.90" stroke="#1a1a1a" stroke-width="1.4" stroke-linecap="butt"/>
<line x1="189.50" y1="1002.90" x2="196.30" y2="1002.90" stroke="#1a1a1a" stroke-width="1.4" stroke-linecap="butt"/>
<line x1="251.60" y1="1090.90" x2="251.60" y2="1112.50" stroke="#1a1a1a" stroke-width="1.4" stroke-linecap="butt"/>
<line x1="248.20" y1="1090.90" x2="255.00" y2="1090.90" stroke="#1a1a1a" stroke-width="1.4" stroke-linecap="butt"/>
<line x1="248.20" y1="1112.50" x2="255.00" y2="1112.50" stroke="#1a1a1a" stroke-width="1.4" stroke-linecap="butt"/>
<polyline points="134.60,953.80 193.20,979.00 251.90,1101.70 310.40,1182.00 368.70,1217.10 426.70,1225.70" fill="none" stroke="#F3107B" stroke-width="1.3" stroke-linejoin="round"/>
<rect x="131.70" y="950.90" width="5.80" height="5.80" fill="#F3107B"/>
<rect x="190.30" y="976.10" width="5.80" height="5.80" fill="#F3107B"/>
<rect x="249.00" y="1098.80" width="5.80" height="5.80" fill="#F3107B"/>
<rect x="307.50" y="1179.10" width="5.80" height="5.80" fill="#F3107B"/>
<rect x="365.80" y="1214.20" width="5.80" height="5.80" fill="#F3107B"/>
<rect x="423.80" y="1222.80" width="5.80" height="5.80" fill="#F3107B"/>
<line x1="134.30" y1="935.70" x2="134.30" y2="944.30" stroke="#1a1a1a" stroke-width="1.4" stroke-linecap="butt"/>
<line x1="130.90" y1="935.70" x2="137.70" y2="935.70" stroke="#1a1a1a" stroke-width="1.4" stroke-linecap="butt"/>
<line x1="130.90" y1="944.30" x2="137.70" y2="944.30" stroke="#1a1a1a" stroke-width="1.4" stroke-linecap="butt"/>
<line x1="251.60" y1="1095.40" x2="251.60" y2="1108.00" stroke="#1a1a1a" stroke-width="1.4" stroke-linecap="butt"/>
<line x1="248.20" y1="1095.40" x2="255.00" y2="1095.40" stroke="#1a1a1a" stroke-width="1.4" stroke-linecap="butt"/>
<line x1="248.20" y1="1108.00" x2="255.00" y2="1108.00" stroke="#1a1a1a" stroke-width="1.4" stroke-linecap="butt"/>
<polyline points="134.60,940.80 193.20,950.30 251.90,1101.70 310.40,1182.00 368.70,1217.50 426.70,1225.70" fill="none" stroke="#A808E8" stroke-width="1.3" stroke-linejoin="round"/>
<polygon points="134.60,938.35 137.25,943.25 131.95,943.25" fill="#A808E8"/>
<polygon points="193.20,947.85 195.85,952.75 190.55,952.75" fill="#A808E8"/>
<polygon points="251.90,1099.25 254.55,1104.15 249.25,1104.15" fill="#A808E8"/>
<polygon points="310.40,1179.55 313.05,1184.45 307.75,1184.45" fill="#A808E8"/>
<polygon points="368.70,1215.05 371.35,1219.95 366.05,1219.95" fill="#A808E8"/>
<polygon points="426.70,1223.25 429.35,1228.15 424.05,1228.15" fill="#A808E8"/>
<line x1="134.30" y1="934.10" x2="134.30" y2="989.60" stroke="#1a1a1a" stroke-width="1.4" stroke-linecap="butt"/>
<line x1="130.90" y1="934.10" x2="137.70" y2="934.10" stroke="#1a1a1a" stroke-width="1.4" stroke-linecap="butt"/>
<line x1="130.90" y1="989.60" x2="137.70" y2="989.60" stroke="#1a1a1a" stroke-width="1.4" stroke-linecap="butt"/>
<line x1="192.90" y1="956.10" x2="192.90" y2="980.80" stroke="#1a1a1a" stroke-width="1.4" stroke-linecap="butt"/>
<line x1="189.50" y1="956.10" x2="196.30" y2="956.10" stroke="#1a1a1a" stroke-width="1.4" stroke-linecap="butt"/>
<line x1="189.50" y1="980.80" x2="196.30" y2="980.80" stroke="#1a1a1a" stroke-width="1.4" stroke-linecap="butt"/>
<line x1="251.60" y1="1105.40" x2="251.60" y2="1117.20" stroke="#1a1a1a" stroke-width="1.4" stroke-linecap="butt"/>
<line x1="248.20" y1="1105.40" x2="255.00" y2="1105.40" stroke="#1a1a1a" stroke-width="1.4" stroke-linecap="butt"/>
<line x1="248.20" y1="1115.90" x2="255.00" y2="1115.90" stroke="#1a1a1a" stroke-width="1.4" stroke-linecap="butt"/>
<line x1="248.20" y1="1117.20" x2="255.00" y2="1117.20" stroke="#1a1a1a" stroke-width="1.4" stroke-linecap="butt"/>
<polyline points="134.60,961.30 193.20,968.60 251.90,1110.80 310.40,1184.70 368.70,1220.10 426.70,1225.70" fill="none" stroke="#5552F7" stroke-width="1.3" stroke-linejoin="round"/>
<polygon points="131.95,958.85 137.25,958.85 134.60,963.75" fill="#5552F7"/>
<polygon points="190.55,966.15 195.85,966.15 193.20,971.05" fill="#5552F7"/>
<polygon points="249.25,1108.35 254.55,1108.35 251.90,1113.25" fill="#5552F7"/>
<polygon points="307.75,1182.25 313.05,1182.25 310.40,1187.15" fill="#5552F7"/>
<polygon points="366.05,1217.65 371.35,1217.65 368.70,1222.55" fill="#5552F7"/>
<polygon points="424.05,1223.25 429.35,1223.25 426.70,1228.15" fill="#5552F7"/>
<line x1="375.00" y1="1034.50" x2="394.90" y2="1034.50" stroke="#F3107B" stroke-width="1.3" stroke-linecap="butt"/>
<rect x="382.40" y="1031.70" width="5.60" height="5.60" fill="#F3107B"/>
<text x="397.60" y="1037.70" font-size="9.6" fill="#1a1a1a" textLength="25.50" lengthAdjust="spacingAndGlyphs">Ba/F3</text>
<line x1="375.00" y1="1050.60" x2="394.90" y2="1050.60" stroke="#A808E8" stroke-width="1.3" stroke-linecap="butt"/>
<polygon points="385.20,1048.10 387.80,1053.10 382.60,1053.10" fill="#A808E8"/>
<text x="397.60" y="1053.80" font-size="9.6" fill="#1a1a1a" textLength="33.10" lengthAdjust="spacingAndGlyphs">FES WT</text>
<line x1="375.00" y1="1066.60" x2="394.90" y2="1066.60" stroke="#5552F7" stroke-width="1.3" stroke-linecap="butt"/>
<polygon points="382.60,1064.10 387.80,1064.10 385.20,1069.10" fill="#5552F7"/>
<text x="397.60" y="1069.50" font-size="9.6" fill="#1a1a1a" textLength="47.60" lengthAdjust="spacingAndGlyphs">FES Y734H</text>
</svg>
</body></html>
